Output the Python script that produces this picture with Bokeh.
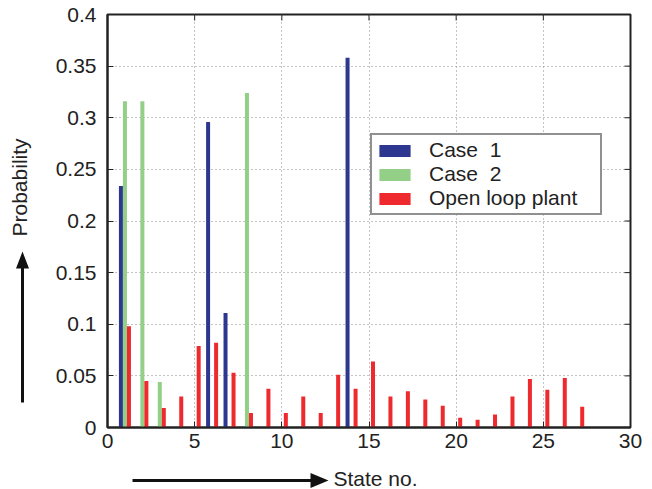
import math
from bokeh.plotting import figure
from bokeh.layouts import row, column
from bokeh.models import (FixedTicker, Label, Range1d,
                          ColumnDataSource, Legend, LegendItem)
from bokeh.transform import dodge
from bokeh.embed import file_html
from bokeh.resources import INLINE

# ---------------- data ----------------
states = list(range(1, 28))
case1 = [0.234, 0, 0, 0, 0, 0.296, 0.111, 0, 0, 0, 0, 0, 0, 0.358,
         0, 0, 0, 0, 0, 0, 0, 0, 0, 0, 0, 0, 0]
case2 = [0.316, 0.316, 0.044, 0, 0, 0, 0, 0.324, 0, 0, 0, 0, 0, 0,
         0, 0, 0, 0, 0, 0, 0, 0, 0, 0, 0, 0, 0]
open_loop = [0.098, 0.045, 0.019, 0.030, 0.079, 0.082, 0.053, 0.014, 0.0375,
             0.014, 0.030, 0.014, 0.051, 0.0375, 0.064, 0.030, 0.035, 0.027,
             0.021, 0.0095, 0.0075, 0.0125, 0.030, 0.047, 0.0365, 0.048, 0.020]
series_names = ["Case  1", "Case  2", "Open loop plant"]
x_ticks = [0, 5, 10, 15, 20, 25, 30]
x_tick_labels = ["0", "5", "10", "15", "20", "25", "30"]
y_ticks = [0, 0.05, 0.1, 0.15, 0.2, 0.25, 0.3, 0.35, 0.4]
y_tick_labels = ["0", "0.05", "0.1", "0.15", "0.2", "0.25", "0.3", "0.35", "0.4"]
x_label = "State no."
y_label = "Probability"

# ---------------- style ----------------
FONT = "Liberation Sans"
FS = "21px"
INK = "#222222"
colors = ["#2E3790", "#94CF88", "#EE2A2E"]
offsets = [-0.23, 0.0, 0.23]
bar_w = 0.23
X0, X1 = 0, 30
Y0, Y1 = 0, 0.4

W, H = 652, 489
LEFT_STRIP = 45      # width of the strip holding the y label + arrow
BOTTOM_STRIP = 30    # height of the strip holding the x label + arrow


def no_frame_align(f):
    if "frame_align" in f.properties():
        f.frame_align = False


src = ColumnDataSource(dict(state=states, c1=case1, c2=case2, ol=open_loop))

p = figure(width=W - LEFT_STRIP, height=H - BOTTOM_STRIP,
           x_range=(X0, X1), y_range=(Y0, Y1),
           output_backend="svg", toolbar_location=None,
           min_border_left=107 - LEFT_STRIP, min_border_right=22,
           min_border_top=14, min_border_bottom=62 - BOTTOM_STRIP)
no_frame_align(p)
p.background_fill_color = "white"
p.border_fill_color = "white"
p.outline_line_color = INK
p.outline_line_width = 2

renderers = []
for col, off, c in zip(["c1", "c2", "ol"], offsets, colors):
    r = p.vbar(x=dodge("state", off, range=p.x_range), top=col, width=bar_w,
               source=src, fill_color=c, line_color=None)
    renderers.append(r)

# axes
xt = FixedTicker(ticks=x_ticks)
yt = FixedTicker(ticks=y_ticks)
for ax in [p.xaxis[0], p.yaxis[0]]:
    ax.major_tick_in = 6
    ax.major_tick_out = 0
    ax.minor_tick_line_color = None
    ax.axis_line_color = INK
    ax.axis_line_width = 2
    ax.major_tick_line_color = INK
    ax.major_tick_line_width = 1
    ax.major_label_text_font = FONT
    ax.major_label_text_font_size = FS
    ax.major_label_text_color = INK
p.xaxis[0].ticker = xt
p.yaxis[0].ticker = yt
p.xaxis[0].major_label_overrides = {t: s for t, s in zip(x_ticks, x_tick_labels)}
p.yaxis[0].major_label_overrides = {t: s for t, s in zip(y_ticks, y_tick_labels)}
p.xaxis[0].major_label_standoff = 6
p.yaxis[0].major_label_standoff = 11

# inward ticks on the top and right edges (half of each dash is clipped by the frame)
p.scatter(x=x_ticks, y=[Y1] * len(x_ticks), marker="dash", size=12, angle=math.pi / 2,
          line_color=INK, line_width=1)
p.scatter(x=[X1] * len(y_ticks), y=y_ticks, marker="dash", size=12,
          line_color=INK, line_width=1)

# grid
p.xgrid.ticker = xt
p.ygrid.ticker = yt
for g in [p.xgrid[0], p.ygrid[0]]:
    g.grid_line_color = "#888888"
    g.grid_line_dash = "1 3"
    g.grid_line_width = 1

# legend
legend = Legend(items=[LegendItem(label=n, renderers=[r]) for n, r in zip(series_names, renderers)],
                location=(263, 212))
legend.label_text_font = FONT
legend.label_text_font_size = FS
legend.label_text_color = INK
legend.glyph_width = 39
legend.glyph_height = 15
legend.label_height = 20
legend.label_width = 168
legend.label_standoff = 15
legend.padding = 3
legend.spacing = 0
legend.margin = 0
legend.border_line_color = INK
legend.border_line_width = 2
legend.background_fill_color = "white"
legend.background_fill_alpha = 1
p.add_layout(legend)


def strip(width, height, x0, y0):
    """A bare figure whose frame fills it; ranges are page pixels (y downwards)."""
    f = figure(width=width, height=height,
               x_range=Range1d(x0, x0 + width), y_range=Range1d(y0 + height, y0),
               output_backend="svg", toolbar_location=None,
               x_axis_type=None, y_axis_type=None,
               min_border=0, min_border_left=0, min_border_right=0,
               min_border_top=0, min_border_bottom=0)
    no_frame_align(f)
    f.outline_line_color = None
    f.xgrid.visible = False
    f.ygrid.visible = False
    f.background_fill_color = "white"
    f.border_fill_color = "white"
    return f


# left strip: upward arrow + rotated "Probability"
left = strip(LEFT_STRIP, H - BOTTOM_STRIP, 0, 0)
left.patch(x=[20.5, 20.5, 15.5, 22, 28.5, 23.5, 23.5],
           y=[402, 268, 268, 251, 268, 268, 402],
           fill_color="#111111", line_color=None)
left.add_layout(Label(x=19, y=236, text=y_label, text_font=FONT, text_font_size=FS,
                      text_color=INK, angle=math.pi / 2,
                      text_align="left", text_baseline="alphabetic"))

# bottom strip: rightward arrow + "State no."
bottom = strip(W, BOTTOM_STRIP, 0, H - BOTTOM_STRIP)
bottom.patch(x=[132, 310, 310, 328, 310, 310, 132],
             y=[478.5, 478.5, 472.5, 480, 487.5, 481.5, 481.5],
             fill_color="#111111", line_color=None)
bottom.add_layout(Label(x=333, y=477.5, text=x_label, text_font=FONT, text_font_size=FS,
                        text_color=INK, text_align="left", text_baseline="alphabetic"))

layout = column(row(left, p, spacing=0), bottom, spacing=0)

open("out.html", "w").write(file_html(layout, INLINE))
